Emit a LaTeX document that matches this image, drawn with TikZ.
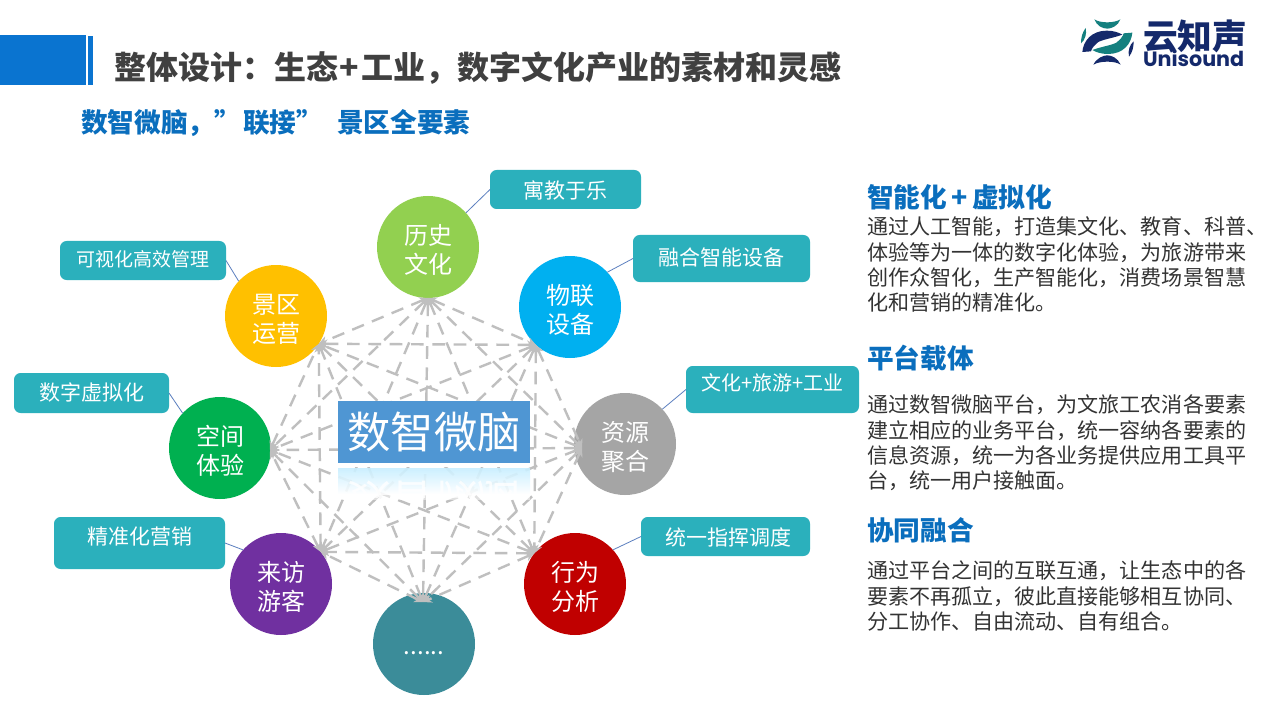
\documentclass[tikz,border=0pt]{standalone}
\usepackage{fontspec}
\setmainfont{Noto Sans CJK SC}
\newfontfamily\logofont{Poppins}
\usetikzlibrary{arrows.meta}
\definecolor{barblue}{HTML}{0A74D0}
\definecolor{headblue}{HTML}{0A6EBD}
\definecolor{tagteal}{HTML}{2BB0BC}
\definecolor{linkblue}{HTML}{5B7FBF}
\definecolor{dashgray}{HTML}{BFBFBF}
\definecolor{textgray}{HTML}{333333}
\definecolor{logonavy}{HTML}{14296B}
\definecolor{logoteal}{HTML}{14807F}
\newcommand\zhcomma{^^^^ff0c}
\newcommand\zhcolon{^^^^ff1a}
% moves a line of text off the centre of its node
\newcommand\nudge[2]{\raisebox{\dimexpr#1-0.38em}[0pt][0pt]{#2}}
\begin{document}
\begin{tikzpicture}[
    x=0.75pt, y=-0.75pt,
    every node/.style={inner sep=0pt, outer sep=0pt},
    hub/.style={circle, minimum size=76.5pt, text=white, align=center,
        font=\fontsize{18}{21.5}\selectfont},
    tag/.style={rounded corners=5pt, fill=tagteal, text=white,
        font=\fontsize{15.75}{19}\selectfont},
    link/.style={linkblue, line width=0.6pt},
    mesh/.style={dashgray, line width=1.8pt, dash pattern=on 9.5pt off 6.5pt,
        {Stealth[length=6.5pt,width=6.5pt,inset=2pt]}-{Stealth[length=6.5pt,width=6.5pt,inset=2pt]}},
    heading/.style={anchor=west, text=headblue, font=\fontsize{20}{24}\bfseries\selectfont},
    para/.style={anchor=north west, align=left, text=textgray, font=\fontsize{15.8}{19}\selectfont}
]
    \useasboundingbox (0,0) rectangle (1280,720);
    \fill[white] (0,0) rectangle (1280,720);

    % ==========================
    % HEADER
    % ==========================
    \fill[barblue] (0,35) rectangle (86,85);
    \fill[barblue] (88,36) rectangle (93,85);
    \node[anchor=west, text=black!75, font=\fontsize{24}{28}\bfseries\selectfont] (title) at (114,68)
        {整体设计\zhcolon 生态\hspace{1.5pt}+\hspace{1.5pt}工业\zhcomma 数字文化产业的素材和灵感};
    \node[heading] (subtitle) at (81,123) {数智微脑\zhcomma ”\hspace{1.5pt}联接”\hspace{10.5pt}景区全要素};

    % ==========================
    % LOGO
    % ==========================
    \begin{scope}[shift={(1075,14)}, x=0.25pt, y=-0.25pt]
        \fill[logoteal] (58,16) .. controls (75,28) and (118,28) .. (136,16)
            .. controls (130,35) and (110,44) .. (97,44)
            .. controls (82,44) and (65,35) .. (58,16) -- cycle;
        \fill[logonavy] (55,152) .. controls (65,132) and (85,124) .. (97,124)
            .. controls (110,124) and (128,132) .. (137,152)
            .. controls (120,140) and (75,140) .. (55,152) -- cycle;
        \fill[logonavy] (22,114) .. controls (25,80) and (50,50) .. (95,50)
            .. controls (115,50) and (130,55) .. (142,62)
            .. controls (115,72) and (85,76) .. (70,84)
            .. controls (60,92) and (50,102) .. (48,112) -- cycle;
        \fill[logoteal] (172,56) .. controls (169,90) and (144,120) .. (99,120)
            .. controls (79,120) and (64,115) .. (52,108)
            .. controls (79,98) and (109,94) .. (124,86)
            .. controls (134,78) and (144,68) .. (146,58) -- cycle;
        \fill[logoteal] (32,42) .. controls (22,55) and (18,70) .. (18,88)
            .. controls (30,78) and (36,60) .. (32,42) -- cycle;
        \fill[logonavy] (162,128) .. controls (172,115) and (176,100) .. (176,82)
            .. controls (164,92) and (158,110) .. (162,128) -- cycle;
    \end{scope}
    \node[anchor=west, text=logonavy, font=\fontsize{26}{28}\bfseries\selectfont] (logocn) at (1143,36) {云知声};
    \node[anchor=west, text=logonavy, font=\logofont\fontsize{15.5}{16}\bfseries\selectfont] (logoen) at (1143,58) {Unisound};

    % ==========================
    % HUBS AND TAGS
    % ==========================
    \foreach \name/\px/\py/\col/\top/\bot in {
        history/428/247/92D050/历史/文化,
        iot/570/307/00B0F0/物联/设备,
        resource/625/444/A5A5A5/资源/聚合,
        behavior/575/584/C00000/行为/分析,
        visitor/281/584/7030A0/来访/游客,
        space/220/448/00B050/空间/体验,
        ops/276/316/FFC000/景区/运营}
    {
        \definecolor{hubcol}{HTML}{\col}
        \node[hub, fill=hubcol] (\name) at (\px,\py)
            {\nudge{-3.75pt}{\top}\\[3.5pt]\nudge{-0.5pt}{\bot}};
    }
    \definecolor{hubcol}{HTML}{3B8C99}
    \node[hub, fill=hubcol] (more) at (424,644) {\nudge{-1pt}{......}};

    \node[tag, minimum width=113.25pt, minimum height=29.25pt] (leisure) at (565.5,189.5) {\nudge{-0.4pt}{寓教于乐}};
    \node[tag, minimum width=132.75pt, minimum height=35.25pt] (device) at (721.5,258.5) {\nudge{1pt}{融合智能设备}};
    \node[tag, minimum width=129.75pt, minimum height=35.25pt, font=\fontsize{15}{19}\selectfont] (fusion) at (772.5,389.5) {\nudge{5pt}{文化+旅游+工业}};
    \node[tag, minimum width=126.75pt, minimum height=29.25pt] (command) at (725.5,536.5) {\nudge{-0.4pt}{\hspace{4.5pt}统一指挥调度}};
    \node[tag, minimum width=124.5pt, minimum height=29.25pt, font=\fontsize{14.25}{19}\selectfont] (manage) at (143,260.5) {\nudge{1pt}{可视化高效管理}};
    \node[tag, minimum width=116.25pt, minimum height=30pt] (virtual) at (91.5,393) {\nudge{0pt}{数字虚拟化}};
    \node[tag, minimum width=128.25pt, minimum height=39pt] (market) at (139.5,543) {\nudge{4.5pt}{精准化营销}};

    \draw[link] (history.42) -- (leisure.west);
    \draw[link] (iot.43) -- (device.west);
    \draw[link] (resource.43) -- (fusion.west);
    \draw[link] (behavior.42) -- (command.west);
    \draw[link] (ops.137) -- (manage.east);
    \draw[link] (space.137) -- (virtual.east);
    \draw[link] (visitor.138) -- (market.east);

    % ==========================
    % DASHED MESH
    % ==========================
    \coordinate (p1) at (history.south);
    \coordinate (p2) at (iot.228);
    \coordinate (p3) at ([shift={(8,4)}]resource.west);
    \coordinate (p4) at (behavior.143);
    \coordinate (p5) at ([shift={(-1,9)}]more.north);
    \coordinate (p6) at (visitor.39);
    \coordinate (p7) at ([shift={(-1,2)}]space.east);
    \coordinate (p8) at (ops.-33);

    \foreach \a in {1,...,7} {
        \pgfmathtruncatemacro{\nxt}{\a+1}
        \foreach \b in {\nxt,...,8} {
            \draw[mesh] (p\a) -- (p\b);
        }
    }

    % ==========================
    % CENTRE BOX AND ITS MIRROR IMAGE
    % ==========================
    \node[fill=white, opacity=0.5, minimum width=144pt, minimum height=24pt, anchor=north] (veil) at (434,468) {};
    \shade[top color=blue!30!cyan!25!white, bottom color=white, opacity=0.8] (338,468) rectangle (530,494);
    \begin{scope}
        \clip (338,470) rectangle (530,497);
        \node[yscale=-1, transform shape, text=white, opacity=0.8, font=\fontsize{32.5}{36}\selectfont] (mirror) at (434,501) {数智微脑};
    \end{scope}
    \node[fill=white, minimum width=144pt, minimum height=3pt, anchor=north] (gap) at (434,463) {};
    \definecolor{brainblue}{HTML}{4F96D3}
    \node[fill=brainblue, text=white, minimum width=144pt, minimum height=46.5pt,
        font=\fontsize{32.5}{36}\selectfont] (brain) at (434,432) {\nudge{0pt}{数智微脑}};

    % ==========================
    % RIGHT COLUMN
    % ==========================
    \node[heading] (headA) at (867,197) {智能化\,+\,虚拟化};
    \node[para] (paraA) at (867,217) {通过人工智能\zhcomma 打造集文化、教育、科普、\\体验等为一体的数字化体验\zhcomma 为旅游带来\\创作众智化\zhcomma 生产智能化\zhcomma 消费场景智慧\\化和营销的精准化。};
    \node[heading] (headB) at (867,358) {平台载体};
    \node[para] (paraB) at (867,395) {通过数智微脑平台\zhcomma 为文旅工农消各要素\\建立相应的业务平台\zhcomma 统一容纳各要素的\\信息资源\zhcomma 统一为各业务提供应用工具平\\台\zhcomma 统一用户接触面。};
    \node[heading] (headC) at (867,530) {协同融合};
    \node[para] (paraC) at (867,561) {通过平台之间的互联互通\zhcomma 让生态中的各\\要素不再孤立\zhcomma 彼此直接能够相互协同、\\分工协作、自由流动、自有组合。};

\end{tikzpicture}
\end{document}
